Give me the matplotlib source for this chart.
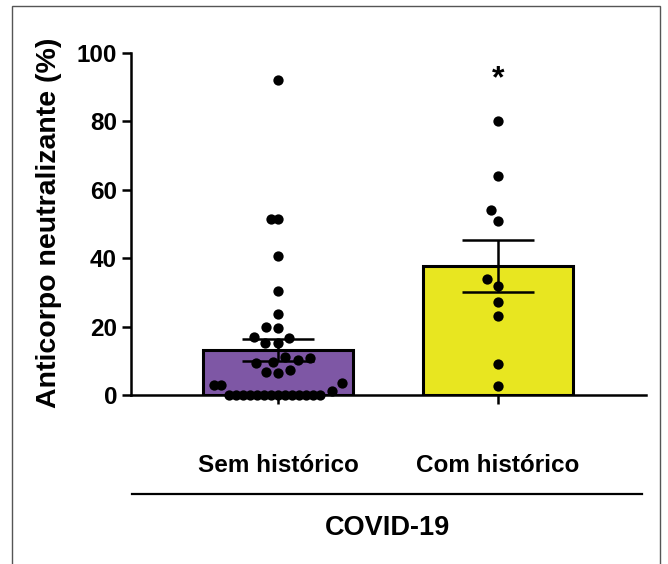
import numpy as np
import matplotlib
matplotlib.use('Agg')
import matplotlib.pyplot as plt
from matplotlib.patches import Rectangle
from matplotlib.lines import Line2D

plt.rcParams['font.family'] = ['Liberation Sans', 'DejaVu Sans']
plt.rcParams['font.weight'] = 'bold'

# data
groups = ['Sem histórico', 'Com histórico']
bar_means = [13.2, 37.7]
bar_sems = [3.3, 7.7]
bar_colors = ['#7e57a5', '#e8e620']

sem_historico = [0, 0, 0, 0, 0, 0, 0, 0, 0, 0, 0, 0, 0, 0,
                 1.3, 2.9, 2.9, 3.4, 6.3, 6.8, 7.3, 9.3, 9.7, 10.2, 10.7,
                 11.2, 15.1, 15.3, 16.6, 17.0, 19.5, 20.0, 23.6, 30.5,
                 40.7, 51.4, 51.4, 92.0]
com_historico = [2.7, 9.1, 23.2, 27.1, 31.9, 33.9, 51.0, 54.1, 64.1, 80.1]
points = [sem_historico, com_historico]

yticks = [0, 20, 40, 60, 80, 100]


def swarm_x(vals, ax, xc, sep=12.5, sep_same=7.0):
    # simple beeswarm in pixel space, lowest values placed first
    vals = np.asarray(vals, dtype=float)
    pix = ax.transData.transform(np.column_stack([np.full(len(vals), xc), vals]))
    ys = pix[:, 1]
    dx = np.zeros(len(vals))
    placed = []
    for i in np.argsort(ys, kind='stable'):
        y = ys[i]
        cands = [0.0]
        for px, py, pv in placed:
            s = sep_same if pv == vals[i] else sep
            dy = abs(y - py)
            if dy < s:
                h = np.sqrt(s * s - dy * dy)
                cands += [px - h, px + h]
        cands.sort(key=lambda c: (abs(c), c))
        for c in cands:
            ok = True
            for px, py, pv in placed:
                s = sep_same if pv == vals[i] else sep
                if (c - px) ** 2 + (y - py) ** 2 < s * s - 1e-6:
                    ok = False
                    break
            if ok:
                dx[i] = c
                break
        placed.append((dx[i], y, vals[i]))
    back = ax.transData.inverted().transform(np.column_stack([pix[:, 0] + dx, ys]))
    return back[:, 0]


W, H = 668, 564
fig = plt.figure(figsize=(W / 100, H / 100), dpi=100)
ax = fig.add_axes([131 / W, (H - 395) / H, 515 / W, 342 / H])

x = np.arange(len(groups))
ax.bar(x, bar_means, width=0.68, color=bar_colors, edgecolor='black',
       linewidth=2.2, zorder=1)
ax.errorbar(x, bar_means, yerr=bar_sems, fmt='none', ecolor='black',
            elinewidth=1.8, capsize=26, capthick=1.8, zorder=2)

ax.set_xlim(-0.668, 1.673)
ax.set_ylim(0, 100)

for i, vals in enumerate(points):
    xs = swarm_x(vals, ax, x[i])
    ax.scatter(xs, vals, s=55, color='black', zorder=3, clip_on=False,
               linewidths=0)

ax.text(1, 90, '*', ha='center', va='baseline', fontsize=23)

for side in ['top', 'right']:
    ax.spines[side].set_visible(False)
for side in ['left', 'bottom']:
    ax.spines[side].set_linewidth(1.8)

ax.set_yticks(yticks)
ax.set_xticks(x)
ax.set_xticklabels(groups, fontsize=17.5, fontweight='bold')
ax.tick_params(axis='x', length=6.5, width=1.8, pad=36)
ax.tick_params(axis='y', length=6.5, width=1.8, pad=3.5, labelsize=17.5)

ax.set_ylabel('Anticorpo neutralizante (%)', fontsize=20.5, fontweight='bold')
ax.yaxis.set_label_coords((62 - 131) / 515, (395 - 223) / 342)

# group line and label under the categories
fig.add_artist(Line2D([132 / W, 642 / W], [1 - 494 / H, 1 - 494 / H],
                      color='black', linewidth=1.6))
fig.text(387 / W, 1 - 528 / H, 'COVID-19', ha='center', va='center',
         fontsize=19.5, fontweight='bold')

# thin frame around the panel
fig.add_artist(Rectangle((12 / W, -0.05), (660 - 12) / W, 1.05 - 6 / H,
                         fill=False, edgecolor='#555555', linewidth=1.0))

fig.savefig('out.png', dpi=100)
